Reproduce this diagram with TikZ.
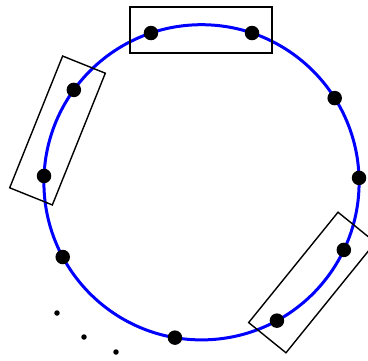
\documentclass[tikz,border=0pt]{standalone}
\usetikzlibrary{calc}
\begin{document}
\begin{tikzpicture}[x=1pt,y=1pt,
  ring/.style={draw={rgb,255:red,0;green,0;blue,255},line width=3pt},
  bigdot/.style={circle,fill=black,inner sep=0pt,minimum size=14.5pt},
  smalldot/.style={circle,fill=black,inner sep=0pt,minimum size=5.5pt},
  groupbox/.style={draw=black,line width=1.4pt,inner sep=0pt,minimum width=142pt,minimum height=46pt}]
\useasboundingbox (0,0) rectangle (368,360);
\clip (0,0) rectangle (368,360);
\coordinate (c) at (201.5,177.7);
\draw[ring] (c) circle (157.6);
\node[groupbox] (g1) at (201,330) {};
\node[groupbox,rotate=68.1] (g2) at (57.5,229.5) {};
\node[groupbox,minimum height=48pt,rotate=51] (g3) at (312,77.5) {};
\foreach \a/\n in {108.7/d1,71.3/d2,32.3/d3,1.6/d4,-25.4/d5,-61.4/d6,-99.7/d7,-151.7/d8,177.7/d9,144.1/d10}
  \node[bigdot] (\n) at ($(c)+(\a:157.6)$) {};
\node[smalldot] (s1) at (57,47) {};
\node[smalldot] (s2) at (84,23) {};
\node[smalldot] (s3) at (116,8) {};
\end{tikzpicture}
\end{document}
